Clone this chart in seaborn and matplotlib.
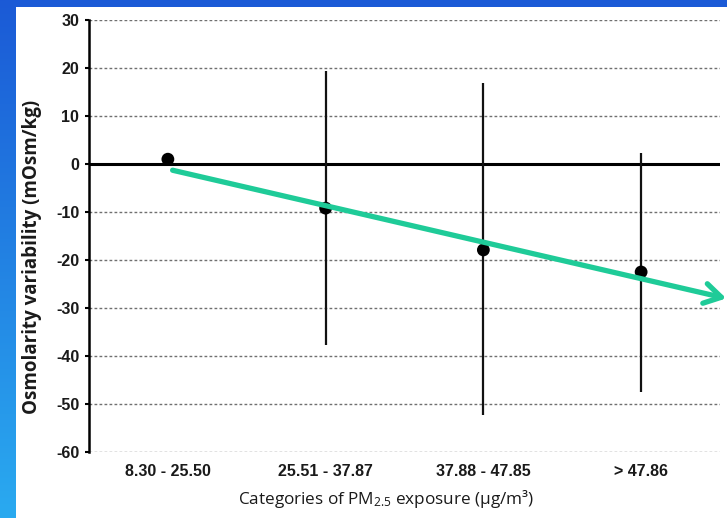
import numpy as np
import pandas as pd
import matplotlib
matplotlib.use("Agg")
import matplotlib.pyplot as plt
import seaborn as sns
from matplotlib.colors import LinearSegmentedColormap
from matplotlib.patches import Rectangle

# PM2.5 exposure categories and change in osmolarity (mean with 95% CI)
categories = ["8.30 - 25.50", "25.51 - 37.87", "37.88 - 47.85", "> 47.86"]
mean_change = [1.0, -9.2, -17.9, -22.5]
ci_low = [np.nan, -37.7, -52.2, -47.5]
ci_high = [np.nan, 19.4, 16.8, 2.3]
y_ticks = list(range(-60, 31, 10))

# overall downward trend arrow (category position, mOsm/kg)
trend_start = (0.03, -1.3)
trend_end = (3.54, -28.0)

sns.set_theme(style="white")
plt.rcParams["font.family"] = ["Liberation Sans", "DejaVu Sans"]
plt.rcParams["axes.unicode_minus"] = False
plt.rcParams["mathtext.fontset"] = "custom"
plt.rcParams["mathtext.rm"] = "Open Sans"
plt.rcParams["mathtext.it"] = "Open Sans:italic"

W, H = 727, 518
fig = plt.figure(figsize=(W / 100, H / 100), dpi=100)

# slide-style blue frame with white panel
bg = fig.add_axes([0, 0, 1, 1])
bg.set_xlim(0, W)
bg.set_ylim(H, 0)
bg.axis("off")
cmap = LinearSegmentedColormap.from_list("frame", ["#1b5ad6", "#2aaaf0"])
bg.imshow(np.linspace(0, 1, 256).reshape(-1, 1), cmap=cmap, aspect="auto",
          extent=[0, W, H, 0], zorder=0)
bg.add_patch(Rectangle((16, 7), W - 16, H - 7, facecolor="white",
                       edgecolor="none", zorder=1))

ax = fig.add_axes([89 / W, 1 - 452 / H, (720 - 89) / W, (452 - 20) / H])
ax.set_facecolor("none")

df = pd.DataFrame({"category": categories, "change": mean_change,
                   "low": ci_low, "high": ci_high})

# confidence intervals
pos = np.arange(len(df))
ax.vlines(pos, df["low"], df["high"], color="#111111", linewidth=1.6, zorder=3)

# means
sns.scatterplot(data=df, x="category", y="change", ax=ax, color="black",
                s=85, edgecolor="none", zorder=4, legend=False)

ax.set_xlim(-0.5, 3.5)
ax.set_ylim(-60, 30)
ax.set_yticks(y_ticks)
ax.yaxis.grid(True, linestyle=(0, (2.0, 1.6)), color="#707070", linewidth=1.0)
ax.set_axisbelow(True)
ax.axhline(0, color="black", linewidth=2.2, zorder=2)

for side in ["top", "right", "bottom"]:
    ax.spines[side].set_visible(False)
ax.spines["left"].set_color("black")
ax.spines["left"].set_linewidth(1.8)

ax.tick_params(axis="y", direction="out", length=3, width=1.5, color="black",
               pad=4, left=True)
ax.tick_params(axis="x", length=0, pad=9)
for lbl in ax.get_yticklabels() + ax.get_xticklabels():
    lbl.set_fontweight("bold")
    lbl.set_fontsize(11.5)
    lbl.set_color("#1a1a1a")

ax.set_xlabel("")
ax.set_ylabel("")

fig.text(32 / W, 1 - 257 / H, "Osmolarity variability (mOsm/kg)",
         rotation=90, ha="center", va="center", fontsize=13.5,
         fontweight="bold", family=["Open Sans", "DejaVu Sans"],
         color="#1a1a1a")
fig.text(386 / W, 1 - 499 / H,
         "Categories of PM$_{2.5}$ exposure (\u00b5g/m\u00b3)",
         ha="center", va="center", fontsize=12.3,
         family=["Open Sans", "DejaVu Sans"], color="#1a1a1a")

# trend arrow
ax.annotate("", xy=trend_end, xytext=trend_start, annotation_clip=False,
            arrowprops=dict(arrowstyle="->,head_length=1.0,head_width=0.6",
                            color="#1fcb98", linewidth=3.8,
                            shrinkA=0, shrinkB=0),
            zorder=5)

fig.savefig("out.png", dpi=100)
